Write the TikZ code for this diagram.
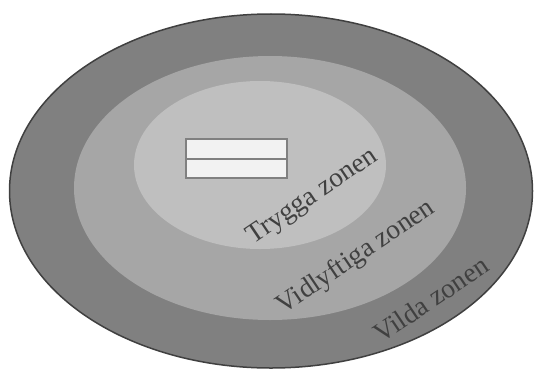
\documentclass[tikz,border=0pt]{standalone}
\usepackage{fontspec}
\setmainfont{Liberation Serif}
\definecolor{outerc}{HTML}{808080}
\definecolor{midc}{HTML}{A6A6A6}
\definecolor{innerc}{HTML}{BFBFBF}
\definecolor{linec}{HTML}{404040}
\definecolor{boxfill}{HTML}{F2F2F2}
\definecolor{boxline}{HTML}{808080}
\begin{document}
\begin{tikzpicture}[x=1pt,y=-1pt,
  zonelabel/.style={text=linec,font=\fontsize{27.5}{32}\selectfont,rotate=34,anchor=base,inner sep=0pt},
  boxpart/.style={draw=boxline,fill=boxfill,line width=2.7pt}]
\useasboundingbox (0,0) rectangle (534,369);
\fill[white] (0,0) rectangle (534,369);
\draw[fill=outerc,draw=linec,line width=1.5pt] (271,191) ellipse [x radius=261.5,y radius=177];
\fill[midc] (270,188) ellipse [x radius=196,y radius=132];
\fill[innerc] (260,165) ellipse [x radius=126,y radius=84];
\draw[boxpart] (186,139) rectangle (287,159);
\draw[boxpart] (186,159) rectangle (287,178);
\node[zonelabel] (trygga) at (316,202) {Trygga zonen};
\node[zonelabel] (vidlyftiga) at (360,263) {Vidlyftiga zonen};
\node[zonelabel] (vilda) at (436,307) {Vilda zonen};
\end{tikzpicture}
\end{document}
